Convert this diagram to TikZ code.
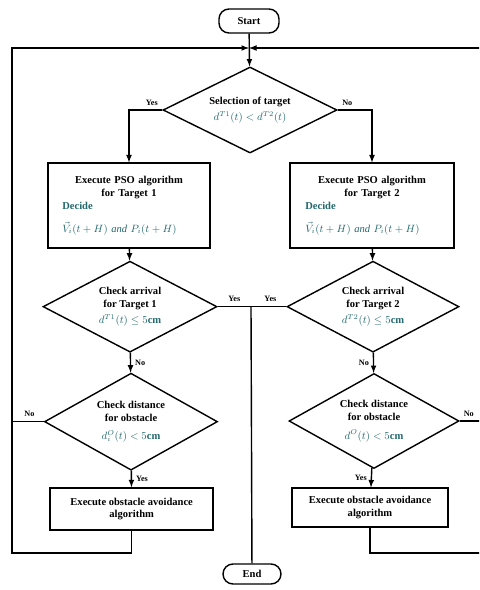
\documentclass[tikz,border=0pt]{standalone}
\usepackage{amsmath}
\usepackage{fontspec}
\setmainfont{Liberation Serif}
\usetikzlibrary{shapes.geometric}
\definecolor{formula}{RGB}{35,105,110}

\tikzset{
  terminal/.style = {draw, rectangle, rounded corners = 0.3cm, very thick, font = \small\bfseries},
  block/.style = {draw, rectangle, very thick, font = \small\bfseries},
  decision/.style = {draw, diamond, aspect = 2, very thick, inner sep = 0pt, align = center, font = \small\bfseries},
  answer/.style = {font = \scriptsize\bfseries},
  flow/.style = {-latex, very thick},
  line/.style = {very thick}
}

\begin{document}
\begin{tikzpicture}
      \clip (0, 0) rectangle (14.37, -17.7);
      \fill [white] (0, 0) rectangle (14.37, -17.7);

      \node (start) [terminal, minimum width = 1.8cm, minimum height = 0.72cm] at (7.47, -0.63) {Start};
      \coordinate (merge) at (7.47, -1.44);
      \node (select) [decision, minimum width = 5.22cm, minimum height = 2.58cm] at (7.5, -3.3) {Selection of target\\[3pt] \color{formula}$d^{T1}(t) < d^{T2}(t)$};

      \node (pso1) [block, minimum width = 4.86cm, minimum height = 2.55cm, text width = 4.0cm] at (3.87, -6.17) {{\centering Execute PSO algorithm\\ for Target 1\par}\color{formula}Decide\\[8pt] $\vec{V}_i(t+H)$ {\mdseries\itshape and} $P_i(t+H)$};
      \node (pso2) [block, minimum width = 4.92cm, minimum height = 2.55cm, text width = 4.0cm] at (11.16, -6.17) {{\centering Execute PSO algorithm\\ for Target 2\par}\color{formula}Decide\\[8pt] $\vec{V}_i(t+H)$ {\mdseries\itshape and} $P_i(t+H)$};

      \node (arrive1) [decision, minimum width = 5.22cm, minimum height = 2.73cm] at (3.9, -9.2) {Check arrival\\ for Target 1\\[3pt] \color{formula}$d^{T1}(t) \le 5$cm};
      \node (arrive2) [decision, minimum width = 5.16cm, minimum height = 2.73cm] at (11.19, -9.2) {Check arrival\\ for Target 2\\[3pt] \color{formula}$d^{T2}(t) \le 5$cm};
      \coordinate (join) at (7.53, -9.2);

      \node (dist1) [decision, minimum width = 5.19cm, minimum height = 2.91cm] at (3.93, -12.65) {Check distance\\ for obstacle\\[5pt] \color{formula}$d_i^{O}(t) < 5$cm};
      \node (dist2) [decision, minimum width = 5.1cm, minimum height = 2.85cm] at (11.22, -12.63) {Check distance\\ for obstacle\\[5pt] \color{formula}$d^{O}(t) < 5$cm};

      \node (avoid1) [block, minimum width = 4.89cm, minimum height = 1.26cm, align = center] at (3.95, -15.27) {Execute obstacle avoidance\\ algorithm};
      \node (avoid2) [block, minimum width = 4.68cm, minimum height = 1.17cm, align = center] at (11.1, -15.23) {Execute obstacle avoidance\\ algorithm};

      \node (finish) [terminal, minimum width = 1.74cm, minimum height = 0.6cm] at (7.56, -17.22) {End};

      \coordinate (ltop) at (0.36, -1.44);
      \coordinate (lcorner) at (0.36, -16.59);
      \coordinate (rtop) at (14.7, -1.44);
      \coordinate (rcorner) at (14.7, -16.59);

      \draw [flow] (start) -- (select);
      \draw [flow] (select.west) node [answer, above left] {Yes} -| (pso1);
      \draw [flow] (select.east) node [answer, above right] {No} -| (pso2);
      \draw [flow] (pso1) -- (arrive1);
      \draw [flow] (pso2) -- (arrive2);
      \draw [line] (arrive1.east) -- (join) node [answer, pos = 0.5, above] {Yes};
      \draw [line] (arrive2.west) -- (join) node [answer, pos = 0.45, above] {Yes};
      \draw [line] (join) -- (finish);
      \draw [flow] (arrive1) -- (dist1) node [answer, pos = 0.5, right] {No};
      \draw [flow] (arrive2) -- (dist2) node [answer, pos = 0.5, left] {No};
      \draw [flow] (dist1) -- (avoid1) node [answer, pos = 0.5, right] {Yes};
      \draw [flow] (dist2) -- (avoid2) node [answer, pos = 0.5, left] {Yes};
      \draw [line] (dist1.west) -- (dist1.west -| ltop) node [answer, pos = 0.45, above] {No};
      \draw [line] (dist2.east) -- (dist2.east -| rtop) node [answer, pos = 0.3, above] {No};
      \draw [flow] (avoid1) |- (lcorner) -- (ltop) -- (merge);
      \draw [flow] (avoid2) |- (rcorner) -- (rtop) -- (merge);
    \end{tikzpicture}
\end{document}
